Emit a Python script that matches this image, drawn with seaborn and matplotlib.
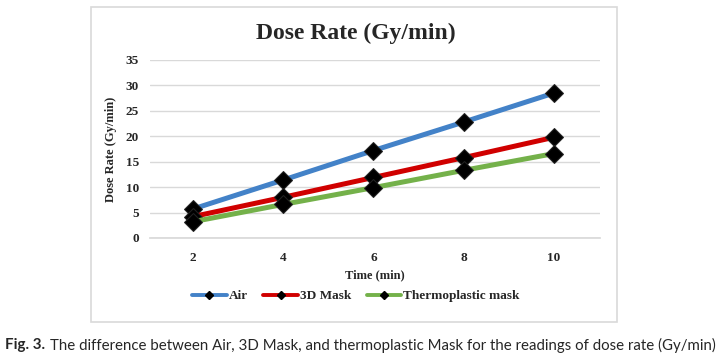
import pandas as pd
import matplotlib.pyplot as plt
import seaborn as sns
from matplotlib.patches import Rectangle
from matplotlib.lines import Line2D

# data
time_min = [2, 4, 6, 8, 10]
air = [5.7, 11.4, 17.2, 22.8, 28.5]
mask_3d = [4.2, 8.0, 11.9, 15.8, 19.8]
thermo = [3.2, 6.6, 9.9, 13.3, 16.6]
series_names = ['Air', '3D Mask', 'Thermoplastic mask']
series_colors = ['#4382c8', '#d00000', '#74b14a']

df = pd.DataFrame({'time': time_min * 3,
                   'dose': air + mask_3d + thermo,
                   'series': [s for s in series_names for _ in time_min]})

sns.set_theme(style="white")
plt.rcParams['font.family'] = ['Liberation Serif', 'DejaVu Serif']

W, H = 724, 361
fig = plt.figure(figsize=(W / 100, H / 100), dpi=100)
ax = fig.add_axes([150 / W, 1 - 238 / H, 450 / W, 178 / H])

# chart frame
fig.patches.append(Rectangle((91 / W, 1 - 322 / H), 526 / W, 315 / H,
                             transform=fig.transFigure, fill=False,
                             edgecolor='#d9d9d9', linewidth=1.2))

for name, col in zip(series_names, series_colors):
    sns.lineplot(data=df[df['series'] == name], x='time', y='dose', ax=ax,
                 color=col, linewidth=3.6, marker='D', markersize=9.5,
                 markerfacecolor='black', markeredgecolor='#222222',
                 legend=False)

ax.set_xlim(1.05, 11.02)
ax.set_ylim(0, 35)
ax.set_xticks(time_min)
ax.set_yticks(range(0, 36, 5))
ax.yaxis.grid(True, color='#d9d9d9', linewidth=1)
ax.xaxis.grid(False)
for s in ['top', 'right', 'left']:
    ax.spines[s].set_visible(False)
ax.spines['bottom'].set_color('#d9d9d9')
ax.tick_params(axis='y', length=0, labelsize=9.5, pad=8)
ax.tick_params(axis='x', length=0, labelsize=9.5, pad=10)
for lab in ax.get_xticklabels() + ax.get_yticklabels():
    lab.set_fontweight('bold')

ax.set_xlabel('Time (min)', fontsize=9, fontweight='bold', labelpad=4)
ax.set_ylabel('Dose Rate (Gy/min)', fontsize=9, fontweight='bold', labelpad=6)

fig.text(356 / W, 1 - 33 / H, 'Dose Rate (Gy/min)', ha='center', va='center',
         fontsize=17, fontweight='bold')

handles = [Line2D([], [], color=c, linewidth=2.8, marker='D', markersize=4,
                  markerfacecolor='black', markeredgecolor='black')
           for c in series_colors]
fig.legend(handles, series_names, loc='center', bbox_to_anchor=(356 / W, 1 - 296 / H),
           ncol=3, frameon=False, handlelength=2.6, columnspacing=1.2,
           handletextpad=0.15, prop={'weight': 'bold', 'size': 9.5})

fig.text(5 / W, 1 - 345 / H, 'Fig. 3.', ha='left', va='center', fontsize=10.9,
         fontweight='bold', family=['Lato', 'DejaVu Sans'])
fig.text(50 / W, 1 - 345 / H,
         'The difference between Air, 3D Mask, and thermoplastic Mask for the readings of dose rate (Gy/min)',
         ha='left', va='center', fontsize=10.8, family=['Lato', 'DejaVu Sans'])

plt.savefig('out.png', dpi=100)
plt.close()
